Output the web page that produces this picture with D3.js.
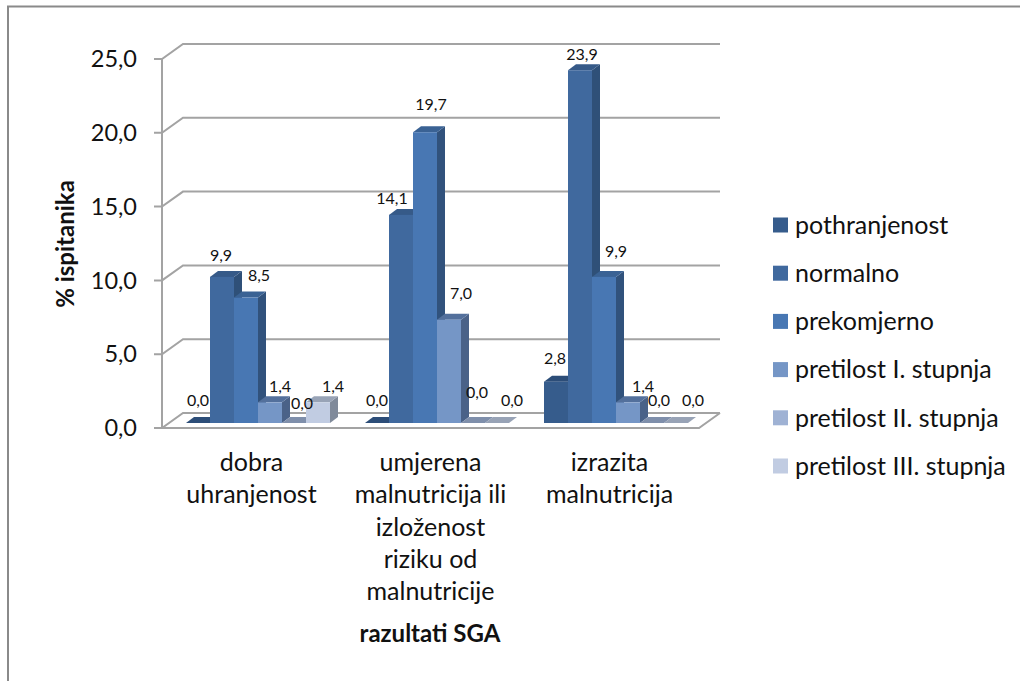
<!DOCTYPE html>
<html>
<head>
<meta charset="utf-8">
<script src="https://cdn.jsdelivr.net/npm/d3@7"></script>
<style>
	html, body { margin: 0; padding: 0; background: #fff; }
	svg { display: block; font-family: Lato, "Liberation Sans", sans-serif; }
	.grid { fill: none; stroke: #a3a3a3; stroke-width: 2; }
</style>
</head>
<body>
<svg id="plot" width="1020" height="681"></svg>
<script>
const CATEGORIES = [
	['dobra', 'uhranjenost'],
	['umjerena', 'malnutricija ili', 'izloženost', 'riziku od', 'malnutricije'],
	['izrazita', 'malnutricija']
];
const SERIES = ['pothranjenost', 'normalno', 'prekomjerno', 'pretilost I. stupnja', 'pretilost II. stupnja', 'pretilost III. stupnja'];
const POTHRANJENOST = [0.0, 0.0, 2.8];
const NORMALNO = [9.9, 14.1, 23.9];
const PREKOMJERNO = [8.5, 19.7, 9.9];
const PRETILOST_1 = [1.4, 7.0, 1.4];
const PRETILOST_2 = [0.0, 0.0, 0.0];
const PRETILOST_3 = [1.4, 0.0, 0.0];
const VALUES = [POTHRANJENOST, NORMALNO, PREKOMJERNO, PRETILOST_1, PRETILOST_2, PRETILOST_3];
const Y_TICKS = [0, 5, 10, 15, 20, 25];

// face colours for each series
const FRONT = ['#365c8c', '#40699e', '#4877b3', '#7596c6', '#9fb2d4', '#c1cce2'];
const SIDE = ['#2c4a70', '#2f5078', '#31527c', '#4a6288', '#68768e', '#808a9a'];
const TOP = ['#2c4d78', '#365a88', '#3a6294', '#53709c', '#7f8fab', '#98a3b6'];

// the data labels were moved by hand in the original: offset from bar centre / bar top
const LABEL_NUDGE = [
	[[0, -23], [0, -23], [-1, -23]],
	[[-1, -21], [-9, -16], [2, -16]],
	[[13, -22], [6, -28], [12, -25]],
	[[10, -16], [12, -26], [15, -16]],
	[[8, -20], [4, -31], [7, -23]],
	[[15, -16], [15, -23], [17, -23]]
];

const PLOT = { left: 162, right: 699, top: 59, bottom: 428 };
const DEPTH = { x: 21, y: -15 };
const BAR_DEPTH = { x: 8, y: -6 };
const BAR_LIFT = 5;

const fmt = v => v.toFixed(1).replace('.', ',');

whenReady(() => {
	const svg = d3.select('#plot');

	const y = d3.scaleLinear().domain([0, 25]).range([PLOT.bottom, PLOT.top]);
	const x0 = d3.scaleBand().domain(d3.range(CATEGORIES.length)).range([PLOT.left, PLOT.right]);
	const x1 = d3.scaleBand().domain(d3.range(SERIES.length)).range([24, 168]);

	// outer frame of the picture
	svg.append('path')
		.attr('d', 'M8,681V6.5H1020')
		.attr('fill', 'none')
		.attr('stroke', '#8a8a8a')
		.attr('stroke-width', 2);

	// back wall grid
	const walls = svg.append('g');
	Y_TICKS.forEach(t => {
		const py = y(t);
		walls.append('path').attr('class', 'grid')
			.attr('d', `M${PLOT.left - 8},${py}H${PLOT.left}L${PLOT.left + DEPTH.x},${py + DEPTH.y}H${PLOT.right + DEPTH.x}`);
	});
	walls.append('path').attr('class', 'grid')
		.attr('d', `M${PLOT.left},${y(25)}V${y(0)}H${PLOT.right}L${PLOT.right + DEPTH.x},${y(0) + DEPTH.y}`);

	const base = y(0) - BAR_LIFT;
	const barWidth = x1.bandwidth();
	const bars = [];
	CATEGORIES.forEach((c, ci) => {
		SERIES.forEach((s, si) => {
			bars.push({ ci, si, v: VALUES[si][ci], x: x0(ci) + x1(si) });
		});
	});

	const g = svg.selectAll('g.bar').data(bars).enter().append('g').attr('class', 'bar');
	const barTop = d => base - (y(0) - y(d.v));
	g.append('path')
		.attr('fill', d => SIDE[d.si])
		.attr('d', d => `M${d.x + barWidth},${base}v${-(base - barTop(d))}l${BAR_DEPTH.x},${BAR_DEPTH.y}v${base - barTop(d)}z`);
	g.append('path')
		.attr('fill', d => TOP[d.si])
		.attr('d', d => `M${d.x},${barTop(d)}h${barWidth}l${BAR_DEPTH.x},${BAR_DEPTH.y}h${-barWidth}z`);
	g.append('rect')
		.attr('fill', d => FRONT[d.si])
		.attr('x', d => d.x)
		.attr('y', barTop)
		.attr('width', barWidth)
		.attr('height', d => base - barTop(d));

	// data labels
	svg.selectAll('text.val').data(bars).enter().append('text')
		.attr('class', 'val')
		.attr('x', d => d.x + barWidth / 2 + LABEL_NUDGE[d.si][d.ci][0])
		.attr('y', d => barTop(d) + LABEL_NUDGE[d.si][d.ci][1])
		.attr('dy', '0.35em')
		.attr('text-anchor', 'middle')
		.attr('font-size', 16)
		.attr('fill', '#111')
		.text(d => fmt(d.v));

	// y tick labels
	svg.selectAll('text.tick').data(Y_TICKS).enter().append('text')
		.attr('class', 'tick')
		.attr('x', 137)
		.attr('y', d => y(d))
		.attr('dy', '0.35em')
		.attr('text-anchor', 'end')
		.attr('font-size', 23.5)
		.attr('fill', '#111')
		.text(fmt);

	// category labels
	CATEGORIES.forEach((lines, ci) => {
		const t = svg.append('text')
			.attr('text-anchor', 'middle')
			.attr('font-size', 25)
			.attr('fill', '#111');
		lines.forEach((line, i) => {
			t.append('tspan')
				.attr('x', x0(ci) + x0.bandwidth() / 2)
				.attr('y', 471 + i * 32.3)
				.text(line);
		});
	});

	// axis titles
	svg.append('text')
		.attr('x', 430).attr('y', 642)
		.attr('text-anchor', 'middle')
		.attr('font-size', 24).attr('font-weight', 700)
		.attr('fill', '#111')
		.text('razultati SGA');
	svg.append('text')
		.attr('transform', 'translate(74,244) rotate(-90)')
		.attr('text-anchor', 'middle')
		.attr('font-size', 24).attr('font-weight', 700)
		.attr('fill', '#111')
		.text('% ispitanika');

	// legend
	const legendY = d3.scalePoint().domain(SERIES).range([225, 466]);
	const item = svg.selectAll('g.legend').data(SERIES).enter().append('g')
		.attr('class', 'legend')
		.attr('transform', d => `translate(773,${legendY(d)})`);
	item.append('rect')
		.attr('y', -7.5).attr('width', 15).attr('height', 15)
		.attr('fill', (d, i) => FRONT[i]);
	item.append('text')
		.attr('x', 22).attr('dy', '0.35em')
		.attr('font-size', 25)
		.attr('fill', '#111')
		.text(d => d);
});

function whenReady(action) {
	if (document.readyState === 'loading') {
		document.addEventListener('DOMContentLoaded', action);
	} else {
		action();
	}
}
</script>
</body>
</html>
